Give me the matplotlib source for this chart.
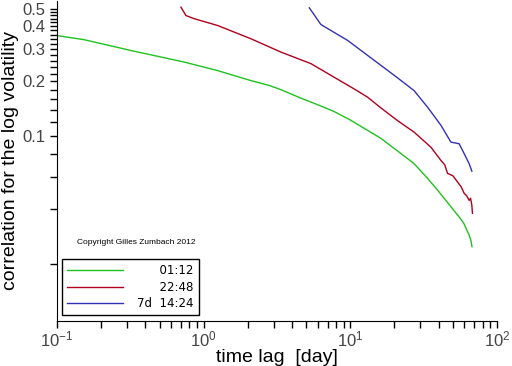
import numpy as np
import matplotlib
matplotlib.use("Agg")
import matplotlib.pyplot as plt
from matplotlib.ticker import FixedLocator, NullFormatter, LogLocator

plt.rcParams['font.family'] = ['Liberation Sans', 'DejaVu Sans']

# time lag [day] and correlation values
lag_green = [0.1, 0.153, 0.319, 0.737, 1.246, 2.10, 2.8, 3.37, 4.60, 6.0, 7.73, 10.0, 13.1, 16.2,
             22.1, 27.1, 33.0, 39.5, 45.0, 50.8, 55.0, 59.4, 62.0, 64.5, 66.4, 67.5]
corr_green = [0.356, 0.338, 0.295, 0.255, 0.229, 0.202, 0.190, 0.180, 0.162, 0.149, 0.137, 0.123, 0.108, 0.0975,
              0.0807, 0.0712, 0.060, 0.0507, 0.0445, 0.0394, 0.0365, 0.0335, 0.0310, 0.0290, 0.0270, 0.0250]

lag_red = [0.70, 0.757, 0.863, 1.246, 2.10, 3.37, 5.39, 7.73, 10.6, 13.1, 16.2,
           21.0, 27.2, 35.4, 41.5, 44.0, 46.0, 50.0, 53.9, 57.0, 59.8, 62.0, 64.6, 66.0, 67.4, 68.0]
corr_red = [0.509, 0.458, 0.440, 0.404, 0.342, 0.289, 0.250, 0.211, 0.182, 0.164, 0.143,
            0.122, 0.1056, 0.0874, 0.0739, 0.0700, 0.0628, 0.0610, 0.0563, 0.0530, 0.0488, 0.0475, 0.0447, 0.0460, 0.0420, 0.0380]

lag_blue = [5.25, 6.30, 9.58, 14.6, 21.0, 27.2, 33.6, 41.5, 48.5, 55.2, 59.8, 64.6, 67.4]
corr_blue = [0.505, 0.409, 0.335, 0.260, 0.209, 0.178, 0.1446, 0.115, 0.0931, 0.0912, 0.0804, 0.0709, 0.0646]

labels = ["\u2007\u2007\u200701:12", "\u2007\u2007\u200722:48", "7d  14:24"]
colors = ["#1ec21e", "#b0001e", "#3232b4"]

fig = plt.figure(figsize=(5.12, 3.66), dpi=100)
ax = fig.add_axes([57/512, 45/366, 440/512, 320/366])

ax.plot(lag_green, corr_green, color=colors[0], lw=1, label=labels[0])
ax.plot(lag_red, corr_red, color=colors[1], lw=1, label=labels[1])
ax.plot(lag_blue, corr_blue, color=colors[2], lw=1, label=labels[2])

ax.set_xscale('log')
ax.set_yscale('log')
ax.set_xlim(0.1, 100)
ax.set_ylim(0.0098, 0.55)

# y ticks: every 0.02, labelled ones at 0.1 .. 0.5
ax.yaxis.set_major_locator(FixedLocator([0.1, 0.2, 0.3, 0.4, 0.5]))
ax.set_yticklabels(["0.1", "0.2", "0.3", "0.4", "0.5"])
ax.yaxis.set_minor_locator(FixedLocator(list(np.arange(0.02, 0.51, 0.02))))
ax.yaxis.set_minor_formatter(NullFormatter())

ax.xaxis.set_major_locator(LogLocator(base=10))
ax.xaxis.set_minor_locator(LogLocator(base=10, subs=np.arange(2, 10)))
ax.xaxis.set_minor_formatter(NullFormatter())

for s in ['top', 'right']:
    ax.spines[s].set_visible(False)
ax.tick_params(which='both', direction='out', length=5, width=1, labelsize=12, colors='black')
ax.tick_params(axis='both', labelcolor='#444444')
ax.tick_params(axis='x', pad=1)

ax.set_xlabel("time lag  [day]", fontsize=14, labelpad=0)
ax.set_ylabel("correlation for the log volatility", fontsize=14, labelpad=2)

ax.text(0.045, 0.245, "Copyright Gilles Zumbach 2012", transform=ax.transAxes,
        fontsize=6, va='center', ha='left')

leg = ax.legend(loc='lower left', bbox_to_anchor=(0.011, 0.019), borderaxespad=0,
                handlelength=4.8, fancybox=False, framealpha=1,
                edgecolor='black', labelspacing=0.3, handletextpad=1.2, borderpad=0.4,
                prop={'family': ['DejaVu Sans'], 'size': 8.5})
leg.get_frame().set_linewidth(1)

fig.savefig("out.png", dpi=100)
